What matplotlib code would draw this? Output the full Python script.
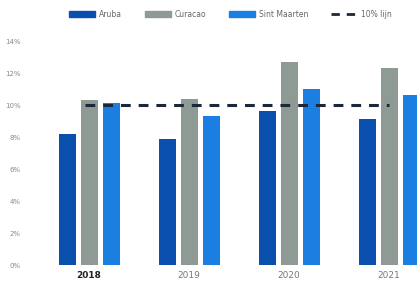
import numpy as np
import matplotlib.pyplot as plt
from matplotlib.patches import Patch
from matplotlib.lines import Line2D

# --- data ---
years = ['2018', '2019', '2020', '2021']
aruba = [8.2, 7.9, 9.6, 9.1]
curacao = [10.3, 10.4, 12.7, 12.3]
sint_maarten = [10.1, 9.3, 11.0, 10.6]
norm = 10.0
yticks = [0, 2, 4, 6, 8, 10, 12, 14]

c_aruba = '#0b4fae'
c_cur = '#8f9a95'
c_sm = '#1b7fe2'
c_line = '#1b2838'

fig = plt.figure(figsize=(4.17, 2.85), dpi=100)
ax = fig.add_axes([0.096, 0.07, 0.904, 0.786])

x = np.arange(len(years))
w = 0.17
ax.bar(x - 0.22, aruba, w, color=c_aruba)
ax.bar(x, curacao, w, color=c_cur)
ax.bar(x + 0.22, sint_maarten, w, color=c_sm)
ax.plot([x[0] - 0.04, x[-1]], [norm, norm], color=c_line, lw=2.2,
        dashes=(3.2, 2.6))

ax.set_xlim(-0.49, 3.28)
ax.set_ylim(0, 14)
ax.set_yticks(yticks)
ax.set_yticklabels([f'{t}%' for t in yticks], fontsize=5, color='#8a8a8a')
ax.set_xticks(x)
ax.set_xticklabels(years, fontsize=6.5, color='#777777')
ax.get_xticklabels()[0].set_fontweight('bold')
ax.get_xticklabels()[0].set_color('#222222')
ax.tick_params(length=0, pad=4)
ax.tick_params(axis='y', pad=14)
for s in ax.spines.values():
    s.set_visible(False)

handles = [Patch(color=c_aruba), Patch(color=c_cur), Patch(color=c_sm),
           Line2D([], [], color=c_line, lw=2, dashes=(3, 2.5))]
labels = ['Aruba', 'Curacao', 'Sint Maarten', '10% lijn']
fig.legend(handles, labels, loc='center', bbox_to_anchor=(0.553, 0.95),
           ncol=4, frameon=False, fontsize=5.5, labelcolor='#666666',
           handlelength=3.4, handleheight=0.7, columnspacing=3.0,
           handletextpad=0.5)

fig.savefig('out.png', dpi=100)
